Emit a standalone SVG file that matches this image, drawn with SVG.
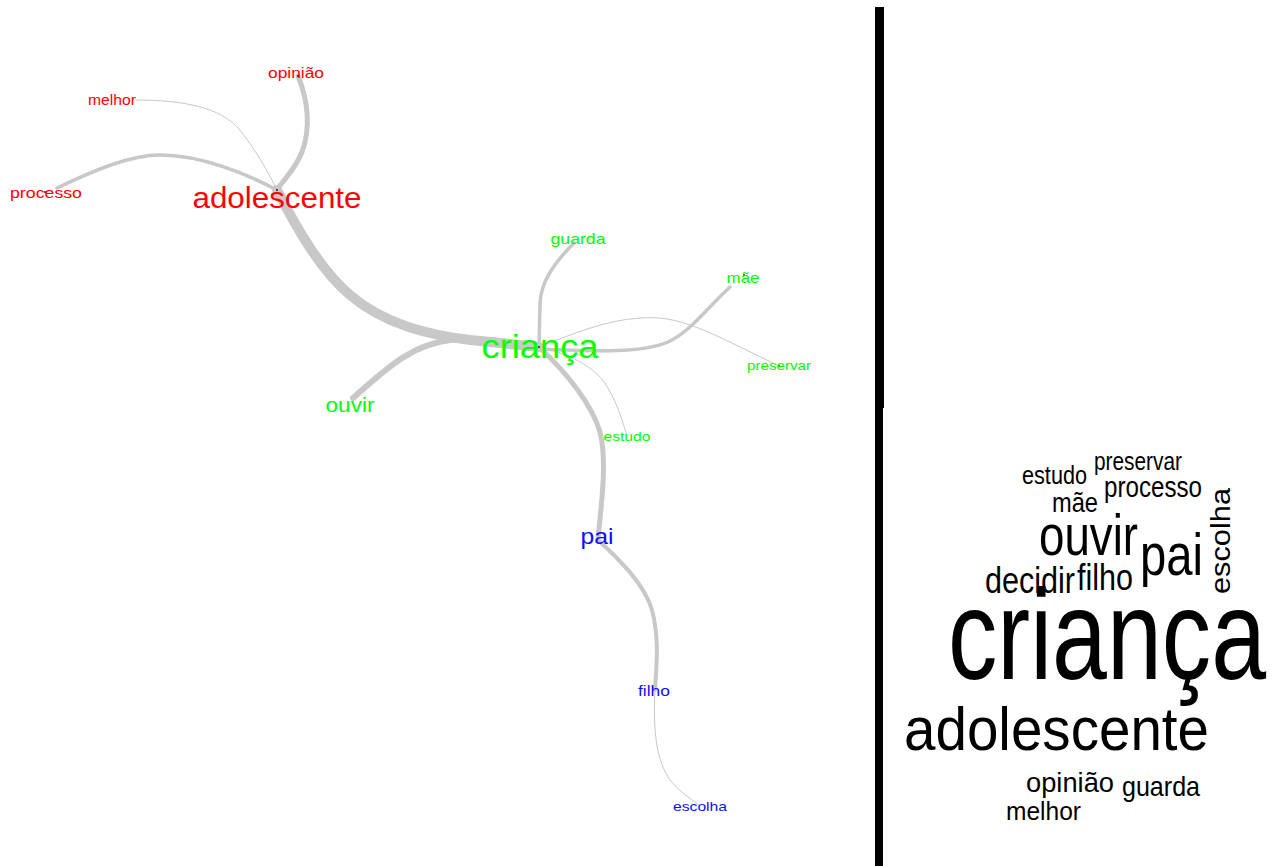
<svg xmlns="http://www.w3.org/2000/svg" width="1277" height="866" viewBox="0 0 1277 866">
<style>
.e{fill:none;stroke:#c8c8c8;stroke-linecap:round}
.lbl{font-family:"Liberation Sans",Arial,sans-serif;text-anchor:middle}
.r{fill:#ff0000}.g{fill:#00ff00}.b{fill:#1010ff}
.w{font-family:"Liberation Sans",Arial,sans-serif;fill:#000}
.dot{fill:#222}
</style>
<rect width="1277" height="866" fill="#fff"/>
<g id="connectors">
<path class="e" stroke-width="10" d="M277,190 C295,225 320,270 350,295 C385,325 430,335 470,340 C500,343 520,345 539,347"/>
<path class="e" stroke-width="6" d="M353,398 C385,370 410,345 450,340 C485,337 515,343 539,347"/>
<path class="e" stroke-width="5" d="M298,76 C308,100 311,128 302,152 C295,170 283,180 277,190"/>
<path class="e" stroke-width="1" d="M136,100 C185,100 220,108 238,128 C255,148 268,172 277,190"/>
<path class="e" stroke-width="3.5" d="M57,188 C95,170 130,155 160,155 C200,155 245,173 277,190"/>
<path class="e" stroke-width="3.5" d="M574,243 C555,262 540,282 540,305 L539,347"/>
<path class="e" stroke-width="3.5" d="M730,287 C705,310 690,332 668,342 C640,354 590,351 539,349"/>
<path class="e" stroke-width="1" d="M539,347 C570,335 605,320 640,318 C680,315 705,330 779,366"/>
<path class="e" stroke-width="1" d="M539,347 C575,355 598,370 608,388 C618,405 622,420 627,436"/>
<path class="e" stroke-width="5" d="M539,347 C568,374 592,405 600,432 C607,460 602,500 598,538"/>
<path class="e" stroke-width="4" d="M598,540 C620,560 645,585 652,610 C660,640 656,670 655,690"/>
<path class="e" stroke-width="1" d="M655,690 C653,730 656,760 670,780 C682,795 694,800 700,806"/>
</g>
<g id="node-adolescente"><circle class="dot" cx="277" cy="190" r="1"/><text class="lbl r" x="277" y="208" font-size="30" textLength="169" lengthAdjust="spacingAndGlyphs">adolescente</text></g>
<g id="node-crianca"><circle class="dot" cx="539" cy="347" r="1"/><text class="lbl g" x="540" y="358" font-size="34" textLength="117" lengthAdjust="spacingAndGlyphs">criança</text></g>
<g id="node-opiniao"><circle class="dot" cx="298" cy="76" r="1"/><text class="lbl r" x="296" y="78" font-size="15" textLength="56" lengthAdjust="spacingAndGlyphs">opinião</text></g>
<g id="node-melhor"><text class="lbl r" x="112" y="105" font-size="15" textLength="48" lengthAdjust="spacingAndGlyphs">melhor</text></g>
<g id="node-processo"><circle class="dot" cx="45" cy="192" r="1"/><text class="lbl r" x="46" y="198" font-size="15" textLength="72" lengthAdjust="spacingAndGlyphs">processo</text></g>
<g id="node-guarda"><text class="lbl g" x="578" y="244" font-size="15" textLength="55" lengthAdjust="spacingAndGlyphs">guarda</text></g>
<g id="node-mae"><circle class="dot" cx="744" cy="275" r="1"/><text class="lbl g" x="743" y="283" font-size="15" textLength="33" lengthAdjust="spacingAndGlyphs">mãe</text></g>
<g id="node-preservar"><circle class="dot" cx="779" cy="366" r="1"/><text class="lbl g" x="779" y="370" font-size="13" textLength="64" lengthAdjust="spacingAndGlyphs">preservar</text></g>
<g id="node-ouvir"><text class="lbl g" x="350" y="412" font-size="20" textLength="49" lengthAdjust="spacingAndGlyphs">ouvir</text></g>
<g id="node-estudo"><text class="lbl g" x="627" y="441" font-size="13" textLength="47" lengthAdjust="spacingAndGlyphs">estudo</text></g>
<g id="node-pai"><text class="lbl b" x="597" y="544" font-size="22" textLength="33" lengthAdjust="spacingAndGlyphs">pai</text></g>
<g id="node-filho"><text class="lbl b" x="654" y="696" font-size="14" textLength="32" lengthAdjust="spacingAndGlyphs">filho</text></g>
<g id="node-escolha"><text class="lbl b" x="700" y="811" font-size="13" textLength="54" lengthAdjust="spacingAndGlyphs">escolha</text></g>
<g id="divider">
<rect x="875" y="7" width="9" height="401" fill="#000"/>
<rect x="875" y="408" width="8" height="458" fill="#000"/>
</g>
<g id="wordcloud">
<text class="w" x="1094" y="470" font-size="25" textLength="88" lengthAdjust="spacingAndGlyphs">preservar</text>
<text class="w" x="1022" y="484" font-size="25" textLength="65" lengthAdjust="spacingAndGlyphs">estudo</text>
<text class="w" x="1104" y="497" font-size="30" textLength="98" lengthAdjust="spacingAndGlyphs">processo</text>
<text class="w" x="1052" y="512" font-size="28" textLength="46" lengthAdjust="spacingAndGlyphs">mãe</text>
<text class="w" x="1039" y="555" font-size="57" textLength="99" lengthAdjust="spacingAndGlyphs">ouvir</text>
<text class="w" x="1140" y="575" font-size="60" textLength="63" lengthAdjust="spacingAndGlyphs">pai</text>
<text class="w" transform="translate(1230,594) rotate(-90)" x="0" y="0" font-size="28" textLength="106" lengthAdjust="spacingAndGlyphs">escolha</text>
<text class="w" x="985" y="593" font-size="37" textLength="90" lengthAdjust="spacingAndGlyphs">decidir</text>
<text class="w" x="1077" y="590" font-size="37" textLength="56" lengthAdjust="spacingAndGlyphs">filho</text>
<text class="w" x="948" y="679" font-size="128" textLength="318" lengthAdjust="spacingAndGlyphs">criança</text>
<text class="w" x="904" y="750" font-size="62" textLength="305" lengthAdjust="spacingAndGlyphs">adolescente</text>
<text class="w" x="1026" y="792" font-size="28" textLength="88" lengthAdjust="spacingAndGlyphs">opinião</text>
<text class="w" x="1122" y="796" font-size="28" textLength="78" lengthAdjust="spacingAndGlyphs">guarda</text>
<text class="w" x="1006" y="820" font-size="25" textLength="75" lengthAdjust="spacingAndGlyphs">melhor</text>
</g>
</svg>
